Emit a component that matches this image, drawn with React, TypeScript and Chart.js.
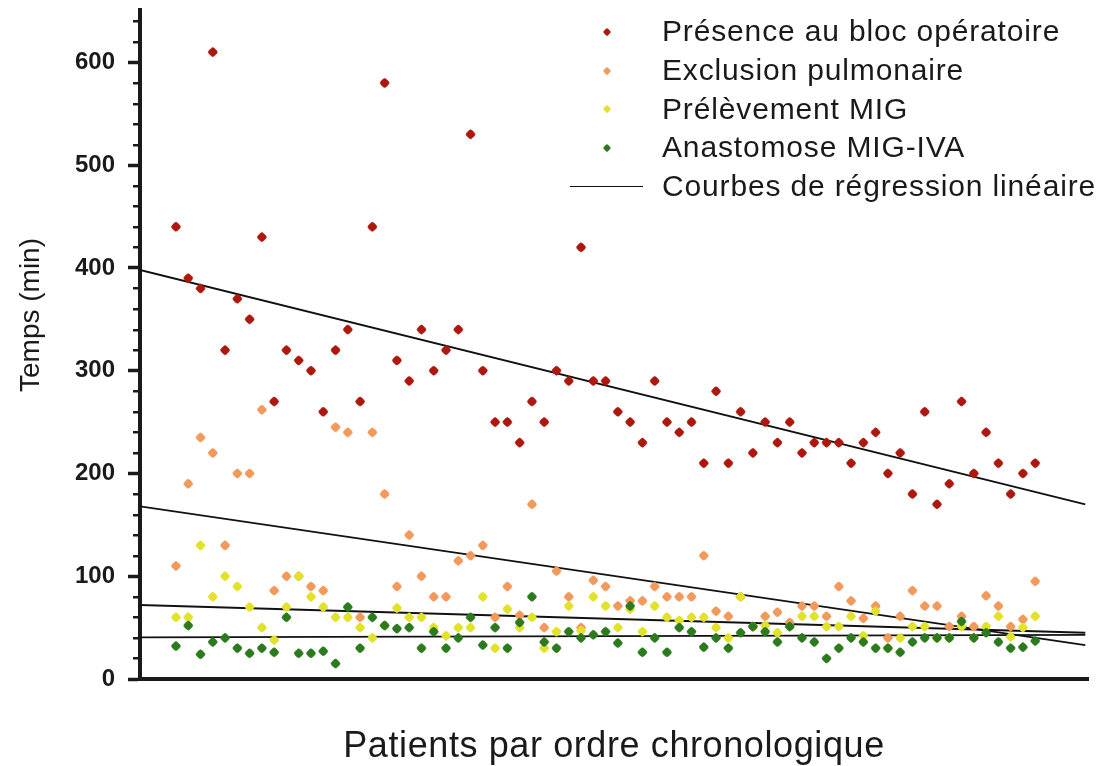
import React, { useEffect, useRef } from "react";
import { Chart, registerables } from "chart.js";

Chart.register(...registerables);

// ---- text ----
const seriesLabels = [
  "Présence au bloc opératoire",
  "Exclusion pulmonaire",
  "Prélèvement MIG",
  "Anastomose MIG-IVA",
];
const regressionLabel = "Courbes de régression linéaire";
const xTitle = "Patients par ordre chronologique";
const yTitle = "Temps (min)";

// ---- data (minutes per patient, chronological order) ----
const presence = [
  440, 390, 380, 610, 320, 370, 350, 430, 270, 320,
  310, 300, 260, 320, 340, 270, 440, 580, 310, 290,
  340, 300, 320, 340, 530, 300, 250, 250, 230, 270,
  250, 300, 290, 420, 290, 290, 260, 250, 230, 290,
  250, 240, 250, 210, 280, 210, 260, 220, 250, 230,
  250, 220, 230, 230, 230, 210, 230, 240, 200, 220,
  180, 260, 170, 190, 270, 200, 240, 210, 180, 200,
  210,
];
const exclusion = [
  110, 190, 235, 220, 130, 200, 200, 262, 86, 100,
  100, 90, 86, 245, 240, 60, 240, 180, 90, 140,
  100, 80, 80, 115, 120, 130, 60, 90, 62, 170,
  50, 105, 80, 50, 96, 90, 71, 76, 76, 90,
  80, 80, 80, 120, 66, 61, 80, 51, 61, 65,
  55, 71, 71, 61, 90, 76, 59, 71, 40, 61,
  86, 71, 71, 51, 61, 51, 81, 71, 51, 58,
  95,
];
const prelevement = [
  60, 60, 130, 80, 100, 90, 70, 50, 38, 70,
  100, 80, 70, 60, 60, 50, 40, 52, 69, 60,
  60, 50, 42, 50, 50, 80, 30, 68, 50, 60,
  30, 46, 71, 47, 80, 71, 50, 68, 46, 71,
  60, 57, 60, 60, 50, 40, 80, 51, 52, 45,
  51, 61, 61, 51, 51, 61, 42, 66, 30, 40,
  51, 51, 40, 40, 51, 40, 51, 61, 41, 50,
  61,
];
const anastomose = [
  32, 52, 24, 36, 40, 30, 25, 30, 26, 60,
  25, 25, 27, 15, 70, 30, 60, 52, 49, 50,
  30, 46, 30, 40, 60, 33, 50, 30, 55, 80,
  36, 30, 46, 40, 43, 46, 35, 71, 26, 40,
  26, 50, 46, 31, 40, 30, 45, 51, 46, 36,
  51, 40, 36, 20, 30, 40, 36, 30, 30, 26,
  36, 40, 40, 40, 56, 40, 45, 36, 30, 31,
  37,
];
const patients = presence.map((_, i) => i + 1);

// regression lines: value at the left and right end
const regressionStart = [398, 168, 72, 40.5];
const regressionEnd = [170, 33, 45, 43];
const regressionX = [-1.93, 75.08];

// ---- axes ----
const xRange = [-1.93, 75.3];
const yRange = [0, 651];
const yMajorStep = 100;
const yMinorStep = 20;

const colors = ["#ad170e", "#f2995c", "#e2e22a", "#2c7a1e"];
const ink = "#1a1a1a";
const FONT = "'Liberation Sans', Arial, Helvetica, sans-serif";

const allSeries = [presence, exclusion, prelevement, anastomose];

const minorTicksPlugin = {
  id: "minorTicks",
  afterDraw(chart: any) {
    const y = chart.scales.y;
    const ctx = chart.ctx;
    ctx.save();
    ctx.strokeStyle = ink;
    ctx.lineWidth = 2.5;
    for (let v = yRange[0] + yMinorStep; v <= y.max; v += yMinorStep) {
      if (v % yMajorStep === 0) continue;
      const py = Math.round(y.getPixelForValue(v)) + 0.25;
      ctx.beginPath();
      ctx.moveTo(y.right - 7, py);
      ctx.lineTo(y.right, py);
      ctx.stroke();
    }
    ctx.restore();
  },
};

function ChartCanvas() {
  const ref = useRef<HTMLCanvasElement | null>(null);
  useEffect(() => {
    if (!ref.current) return;
    const scatterSets = allSeries.map((vals, s) => ({
      label: seriesLabels[s],
      data: vals.map((v, i) => ({ x: patients[i], y: v })),
      backgroundColor: colors[s],
      borderColor: colors[s],
      borderWidth: 0.6,
      pointStyle: "rectRounded",
      pointRotation: 45,
      pointRadius: 4.4,
      showLine: false,
      order: 4 - s,
    }));
    const lineSets = regressionStart.map((y0, s) => ({
      label: regressionLabel,
      data: [
        { x: regressionX[0], y: y0 },
        { x: regressionX[1], y: regressionEnd[s] },
      ],
      borderColor: "#111111",
      borderWidth: 1.8,
      pointRadius: 0,
      showLine: true,
      fill: false,
      order: 10,
    }));
    const chart = new Chart(ref.current, {
      type: "scatter",
      data: { datasets: [...scatterSets, ...lineSets] as any },
      options: {
        animation: false,
        responsive: false,
        maintainAspectRatio: false,
        devicePixelRatio: 1,
        layout: { padding: { top: 10, right: 13, left: 0, bottom: 0 } },
        plugins: {
          legend: { display: false },
          tooltip: { enabled: false },
          title: { display: false },
        },
        scales: {
          x: {
            type: "linear",
            min: xRange[0],
            max: xRange[1],
            ticks: { display: false },
            grid: { display: false, drawTicks: false },
            border: { display: true, color: ink, width: 4 },
            afterFit: (scale: any) => {
              scale.height = 87;
              scale.paddingLeft = 0;
              scale.paddingRight = 0;
            },
          },
          y: {
            type: "linear",
            min: yRange[0],
            max: yRange[1],
            ticks: {
              stepSize: yMajorStep,
              includeBounds: false,
              color: ink,
              padding: 13,
              font: { family: FONT, size: 24, weight: "bold" },
            },
            grid: {
              display: true,
              drawOnChartArea: false,
              drawTicks: true,
              tickLength: 12,
              tickWidth: 3.5,
              tickColor: ink,
            },
            border: { display: true, color: ink, width: 4 },
            afterFit: (scale: any) => {
              scale.width = 140;
              scale.paddingTop = 0;
              scale.paddingBottom = 0;
            },
          },
        },
      } as any,
      plugins: [minorTicksPlugin],
    });
    return () => chart.destroy();
  }, []);
  return <canvas ref={ref} width={1101} height={766} style={{ display: "block" }} />;
}

const legendRows = [31, 70, 108.7, 147, 186];
const LEGEND_FONT = 30;

export default function App() {
  return (
    <div
      style={{
        position: "absolute",
        left: 0,
        top: 0,
        width: 1101,
        height: 766,
        background: "#ffffff",
        fontFamily: FONT,
        color: ink,
        overflow: "hidden",
      }}
    >
      <ChartCanvas />
      {/* legend */}
      {seriesLabels.map((lab, i) => (
        <React.Fragment key={lab}>
          <div
            style={{
              position: "absolute",
              left: 606.5 - 3,
              top: legendRows[i] + 0.7 - 3,
              width: 6,
              height: 6,
              borderRadius: 1.5,
              background: colors[i],
              transform: "rotate(45deg)",
            }}
          />
          <div
            style={{
              position: "absolute",
              left: 662,
              top: legendRows[i] - 0.49 * LEGEND_FONT,
              fontSize: LEGEND_FONT,
              lineHeight: 1,
              letterSpacing: 0.85,
              whiteSpace: "nowrap",
            }}
          >
            {lab}
          </div>
        </React.Fragment>
      ))}
      <div
        style={{
          position: "absolute",
          left: 570,
          top: legendRows[4] + 0.5 - 0.8,
          width: 73,
          height: 1.6,
          background: "#111111",
        }}
      />
      <div
        style={{
          position: "absolute",
          left: 662,
          top: legendRows[4] - 0.49 * LEGEND_FONT,
          fontSize: LEGEND_FONT,
          lineHeight: 1,
          letterSpacing: 0.85,
          whiteSpace: "nowrap",
        }}
      >
        {regressionLabel}
      </div>
      {/* axis titles */}
      <div
        style={{
          position: "absolute",
          left: 614,
          top: 745,
          transform: "translate(-50%, -49%)",
          fontSize: 36,
          lineHeight: 1,
          letterSpacing: 0.6,
          whiteSpace: "nowrap",
        }}
      >
        {xTitle}
      </div>
      <div
        style={{
          position: "absolute",
          left: 30,
          top: 315,
          transform: "translate(-50%, -50%) rotate(-90deg)",
          fontSize: 28,
          lineHeight: 1,
          whiteSpace: "nowrap",
        }}
      >
        {yTitle}
      </div>
    </div>
  );
}
